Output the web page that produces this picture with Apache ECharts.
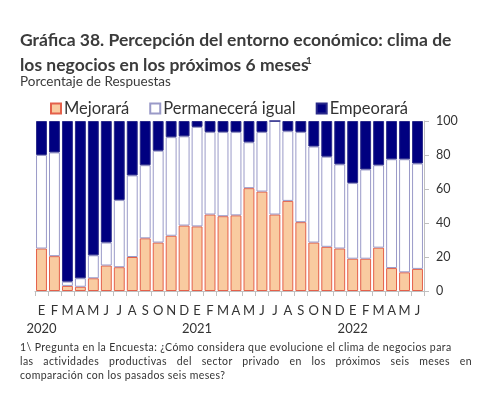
<!DOCTYPE html>
<html>
<head>
<meta charset="utf-8">
<script src="https://cdn.jsdelivr.net/npm/echarts@6/dist/echarts.min.js"></script>
<style>
  html, body { margin: 0; padding: 0; background: #fff; }
  #wrap { position: relative; width: 497px; height: 393px; overflow: hidden; }
  #chart { position: absolute; left: 0; top: 0; width: 497px; height: 393px; }
  #note { position: absolute; left: 20px; top: 340px; width: 452px; font-family: Lato, sans-serif; font-size: 10.5px; color: #333; line-height: 14px; letter-spacing: 0.4px; }
  #note div { white-space: nowrap; }
  #note .j { text-align: justify; text-align-last: justify; white-space: normal; }
</style>
</head>
<body>
<div id="wrap">
  <div id="chart"></div>
  <div id="note">
    <div>1\ Pregunta en la Encuesta: ¿Cómo considera que evolucione el clima de negocios para</div>
    <div class="j">las actividades productivas del sector privado en los próximos seis meses en</div>
    <div>comparación con los pasados seis meses?</div>
  </div>
</div>
<script>
const months = ['E','F','M','A','M','J','J','A','S','O','N','D',
                'E','F','M','A','M','J','J','A','S','O','N','D',
                'E','F','M','A','M','J'];
const yearLabels = {0: '2020', 12: '2021', 24: '2022'};
const seriesNames = ['Mejorará', 'Permanecerá igual', 'Empeorará'];
const mejorara = [25, 20.5, 3, 2.5, 7.5, 15, 14, 20, 31, 28.5, 32.5, 38.5,
                  38, 45, 44, 44.5, 60.5, 58.5, 45, 53, 40.5, 28.5, 26, 25,
                  19, 19, 25.5, 13.5, 11, 13];
const permanecera = [55, 61, 2.5, 5, 13.5, 13.5, 39.5, 48, 43, 54, 58, 52.5,
                     58.5, 48.5, 49.5, 49, 27, 35, 55, 41, 53, 56.5, 53, 49.5,
                     44.5, 52.5, 48.5, 64, 66.5, 62];
const empeorara = [20, 18.5, 94.5, 92.5, 79, 71.5, 46.5, 32, 26, 17.5, 9.5, 9,
                   3.5, 6.5, 6.5, 6.5, 12.5, 6.5, 0, 6, 6.5, 15, 21, 25.5,
                   36.5, 28.5, 26, 22.5, 22.5, 25];

const cats = months.map((m, i) => i + '');
const chart = echarts.init(document.getElementById('chart'));
const FONT = 'Lato, sans-serif';
const TXT = '#333333';

chart.setOption({
  animation: false,
  textStyle: { fontFamily: FONT },
  graphic: [
    { type: 'text', left: 20, top: 31, style: { text: 'Gráfica 38. Percepción del entorno económico: clima de', font: 'bold 17.5px Lato, sans-serif', fill: '#3b3b3b' } },
    { type: 'text', left: 20, top: 56, style: { text: 'los negocios en los próximos 6 meses', font: 'bold 17.5px Lato, sans-serif', fill: '#3b3b3b' } },
    { type: 'text', left: 306, top: 56, style: { text: '1', font: 'bold 10px Lato, sans-serif', fill: '#3b3b3b' } },
    { type: 'text', left: 20, top: 75, style: { text: 'Porcentaje de Respuestas', font: '13.5px Lato, sans-serif', fill: '#3b3b3b' } }
  ],
  legend: {
    data: seriesNames,
    left: 45, top: 95,
    itemWidth: 10, itemHeight: 10, itemGap: 20,
    icon: 'rect',
    textStyle: { fontSize: 16.5, color: TXT, fontFamily: FONT, padding: [0, 0, 0, -2] }
  },
  grid: { left: 35, right: 73, top: 121, bottom: 102, containLabel: false },
  xAxis: {
    type: 'category',
    data: cats,
    boundaryGap: true,
    axisLine: { lineStyle: { color: '#bfbfbf', width: 1 } },
    axisTick: { show: true, interval: 0, length: 5, lineStyle: { color: '#bfbfbf' } },
    axisLabel: {
      interval: 0, margin: 11, color: TXT, fontSize: 13, fontFamily: FONT,
      lineHeight: 18,
      formatter: function (v) {
        const idx = +v;
        return yearLabels[idx] !== undefined ? months[idx] + '\n' + yearLabels[idx] : months[idx];
      }
    }
  },
  yAxis: {
    type: 'value', position: 'right', min: 0, max: 100, interval: 20,
    axisLine: { show: true, lineStyle: { color: '#bfbfbf' } },
    axisTick: { show: true, length: 5, lineStyle: { color: '#bfbfbf' } },
    axisLabel: { color: TXT, fontSize: 12.5, fontFamily: FONT, margin: 12 },
    splitLine: { show: false }
  },
  series: [
    { name: seriesNames[0], type: 'bar', stack: 'a', data: mejorara, barCategoryGap: '16%',
      itemStyle: { color: '#F9CBA0', borderColor: '#E4604A', borderWidth: 1 } },
    { name: seriesNames[1], type: 'bar', stack: 'a', data: permanecera,
      itemStyle: { color: '#FFFFFF', borderColor: '#9A9AC8', borderWidth: 1 } },
    { name: seriesNames[2], type: 'bar', stack: 'a', data: empeorara,
      itemStyle: { color: '#000080', borderColor: '#2a2a8a', borderWidth: 1 } }
  ]
});
</script>
</body>
</html>
